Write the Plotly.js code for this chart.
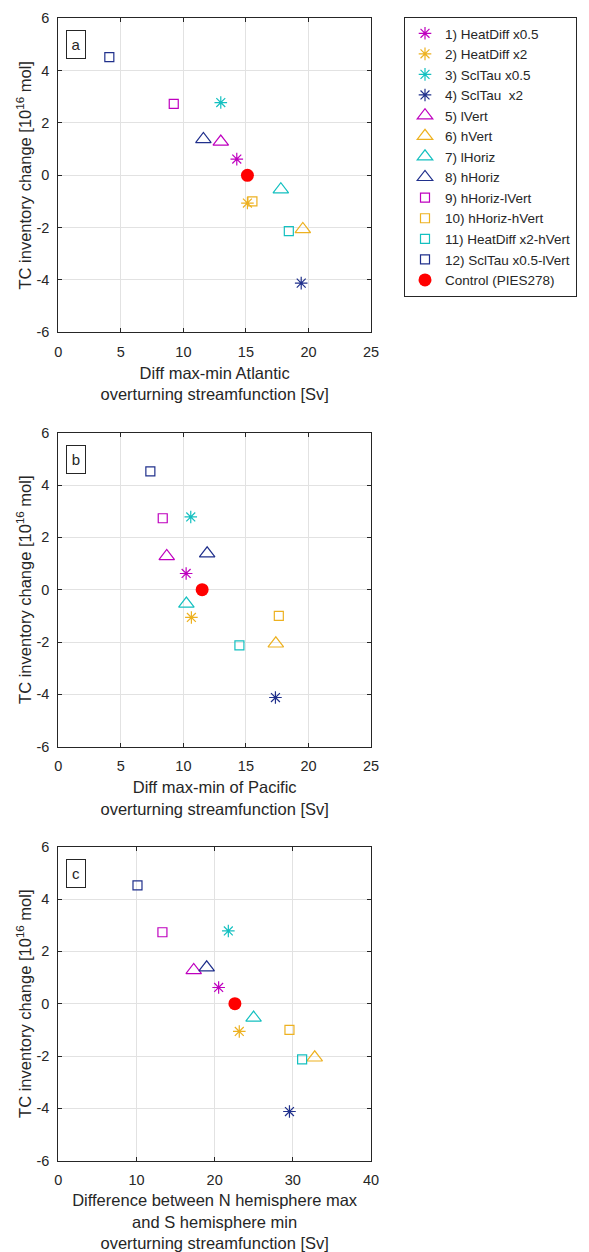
<!DOCTYPE html>
<html>
<head>
<meta charset="utf-8">
<script src="https://cdn.plot.ly/plotly-3.0.1.min.js"></script>
<style>
html, body { margin: 0; padding: 0; background: #ffffff; }
#chart { width: 589px; height: 1252px; }
</style>
</head>
<body>
<div id="chart"></div>
<script>
// ---- data ----
const experiments = [
  '1) HeatDiff x0.5', '2) HeatDiff x2', '3) SclTau x0.5', '4) SclTau\u00a0 x2',
  '5) lVert', '6) hVert', '7) lHoriz', '8) hHoriz',
  '9) hHoriz-lVert', '10) hHoriz-hVert', '11) HeatDiff x2-hVert', '12) SclTau x0.5-lVert',
  'Control (PIES278)'
];
// TC inventory change [1e16 mol]
const tcChange = [0.62, -1.06, 2.78, -4.12, 1.28, -2.06, -0.54, 1.38, 2.73, -1.00, -2.13, 4.52, 0.00];
// panel a: Diff max-min Atlantic overturning streamfunction [Sv]
const atlanticDiff = [14.27, 15.12, 12.99, 19.42, 12.99, 19.55, 17.79, 11.60, 9.23, 15.52, 18.43, 4.08, 15.12];
// panel b: Diff max-min of Pacific overturning streamfunction [Sv]
const pacificDiff = [10.22, 10.64, 10.59, 17.36, 8.67, 17.39, 10.24, 11.90, 8.35, 17.63, 14.48, 7.36, 11.50];
// panel c: N hemisphere max - S hemisphere min overturning streamfunction [Sv]
const hemisphereDiff = [20.51, 23.15, 21.75, 29.57, 17.32, 32.80, 24.98, 18.98, 13.32, 29.57, 31.19, 10.13, 22.59];

const markerSymbols = [
  'asterisk-open', 'asterisk-open', 'asterisk-open', 'asterisk-open',
  'triangle-up-open', 'triangle-up-open', 'triangle-up-open', 'triangle-up-open',
  'square-open', 'square-open', 'square-open', 'square-open',
  'circle'
];
const MAG = 'rgb(191,0,191)', ORA = 'rgb(237,177,32)', CYA = 'rgb(20,192,192)', NAV = 'rgb(32,48,140)', RED = 'rgb(255,0,0)';
const markerColors = [MAG, ORA, CYA, NAV, MAG, ORA, CYA, NAV, MAG, ORA, CYA, NAV, RED];

const yTickVals = [-6, -4, -2, 0, 2, 4, 6];
const yTickText = ['-6', '-4', '-2', '0', '2', '4', '6'];
const xTickValsAB = [0, 5, 10, 15, 20, 25];
const xTickTextAB = ['0', '5', '10', '15', '20', '25'];
const xTickValsC = [0, 10, 20, 30, 40];
const xTickTextC = ['0', '10', '20', '30', '40'];

const panelLetters = ['a', 'b', 'c'];
const xTitles = [
  'Diff max-min Atlantic<br>overturning streamfunction [Sv]',
  'Diff max-min of Pacific<br>overturning streamfunction [Sv]',
  'Difference between N hemisphere max<br>and S hemisphere min<br>overturning streamfunction [Sv]'
];
const yTitle = 'TC inventory change [10<sup>16</sup> mol]';

// ---- styling ----
const FONT = 'Liberation Sans, Arial, Helvetica, sans-serif';
const INK = '#262626';
const sizeFor = { 'asterisk-open': 10.5, 'triangle-up-open': 13.5, 'square-open': 9, 'circle': 13 };

const panelX = [atlanticDiff, pacificDiff, hemisphereDiff];
const traces = [];
panelX.forEach((xs, p) => {
  const suffix = p === 0 ? '' : String(p + 1);
  experiments.forEach((name, i) => {
    const sym = markerSymbols[i];
    traces.push({
      type: 'scatter', mode: 'markers',
      x: [xs[i]], y: [tcChange[i]],
      xaxis: 'x' + suffix, yaxis: 'y' + suffix,
      name: name, legendgroup: name, showlegend: p === 0,
      marker: {
        symbol: sym, size: sizeFor[sym], color: markerColors[i],
        line: { color: markerColors[i], width: sym === 'circle' ? 0 : 1.2 }
      },
      hoverinfo: 'x+y+name'
    });
  });
});

const H = 1252, W = 589;
const xDom = [58.3 / W, 371 / W];
function yDom(topPx, botPx) { return [1 - botPx / H, 1 - topPx / H]; }
const yDoms = [yDom(18.3, 332.3), yDom(432.7, 746.7), yDom(846.7, 1160.7)];

function xAxis(p) {
  const c = p === 2;
  return {
    domain: xDom, anchor: 'y' + (p === 0 ? '' : p + 1),
    range: c ? [0, 40] : [0, 25],
    tickmode: 'array', tickvals: c ? xTickValsC : xTickValsAB, ticktext: c ? xTickTextC : xTickTextAB,
    ticks: 'inside', ticklen: 4, tickcolor: INK, tickwidth: 1,
    showline: true, linecolor: INK, linewidth: 1, mirror: 'ticks',
    showgrid: true, gridcolor: '#e2e2e2', gridwidth: 1, zeroline: false,
    tickfont: { family: FONT, size: 14.5, color: INK },
    ticklabelstandoff: 6,
    title: { text: xTitles[p], font: { family: FONT, size: 16.5, color: INK }, standoff: 8 },
    automargin: false, fixedrange: true
  };
}
function yAxis(p) {
  return {
    domain: yDoms[p], anchor: 'x' + (p === 0 ? '' : p + 1),
    range: [-6, 6],
    tickmode: 'array', tickvals: yTickVals, ticktext: yTickText,
    ticks: 'inside', ticklen: 4, tickcolor: INK, tickwidth: 1,
    showline: true, linecolor: INK, linewidth: 1, mirror: 'ticks',
    showgrid: true, gridcolor: '#e2e2e2', gridwidth: 1, zeroline: false,
    tickfont: { family: FONT, size: 14.5, color: INK },
    ticklabelstandoff: 5,
    title: { text: yTitle, font: { family: FONT, size: 16.5, color: INK }, standoff: 0 },
    automargin: false, fixedrange: true
  };
}

const layout = {
  width: W, height: H,
  margin: { l: 0, r: 0, t: 0, b: 0 },
  paper_bgcolor: '#ffffff', plot_bgcolor: '#ffffff',
  font: { family: FONT, color: INK },
  showlegend: true,
  legend: {
    x: 404 / W, y: 1 - 17 / H, xanchor: 'left', yanchor: 'top',
    bgcolor: '#ffffff', bordercolor: INK, borderwidth: 1,
    font: { family: FONT, size: 13.5, color: INK },
    tracegroupgap: 0
  },
  annotations: panelLetters.map((t, p) => ({
    text: t, showarrow: false,
    xref: (p === 0 ? 'x' : 'x' + (p + 1)) + ' domain',
    yref: (p === 0 ? 'y' : 'y' + (p + 1)) + ' domain',
    x: 0.058, y: 0.916, xanchor: 'center', yanchor: 'middle',
    width: 16, height: 25, borderpad: 1, align: 'center', valign: 'middle',
    bordercolor: INK, borderwidth: 1, bgcolor: '#ffffff',
    font: { family: FONT, size: 15, color: INK }
  }))
};
['', '2', '3'].forEach((s, p) => {
  layout['xaxis' + s] = xAxis(p);
  layout['yaxis' + s] = yAxis(p);
});

Plotly.newPlot('chart', traces, layout, { displayModeBar: false, responsive: false });
</script>
</body>
</html>
